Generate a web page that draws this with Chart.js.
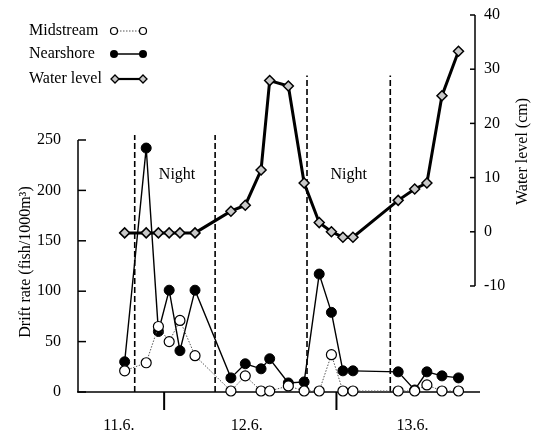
<!DOCTYPE html>
<html><head><meta charset="utf-8">
<script src="https://cdn.jsdelivr.net/npm/chart.js@4/dist/chart.umd.min.js"></script>
<style>html,body{margin:0;padding:0;background:#fff}#c{display:block}</style>
</head><body>
<canvas id="c" width="533" height="434"></canvas>
<script>
// ---- data (hours counted from 00:00 on 11.6.) ----
const hours = [18.5, 21.5, 23.2, 24.7, 26.2, 28.3, 33.3, 35.3, 37.5, 38.7, 41.3, 43.5, 45.6, 47.3, 48.9, 50.3, 56.6, 58.9, 60.6, 62.7, 65.0];
const midstream = [21, 29, 65, 50, 71, 36, 1, 16, 1, 1, 6, 1, 1, 37, 1, 1, 1, 1, 7, 1, 1];
const nearshore = [30, 242, 60, 101, 41, 101, 14, 28, 23, 33, 9, 10, 117, 79, 21, 21, 20, 2, 20, 16, 14];
const waterLevel = [-0.2, -0.2, -0.2, -0.2, -0.2, -0.2, 3.8, 4.9, 11.4, 27.9, 26.9, 9.0, 1.7, 0, -1.0, -1.0, 5.8, 7.9, 9.0, 25.1, 33.3];
const nightBounds = [19.9, 31.1, 43.9, 55.5];
const nightTops = [255, 255, 314, 314];
const nightLabelX = [25.8, 49.7];
const nightLabelY = 215;
const dateLabels = ['11.6.', '12.6.', '13.6.'];
const dateLabelHours = [17.7, 35.5, 58.6];
const midnightHours = [24, 48];
const driftTicks = [0, 50, 100, 150, 200, 250];
const levelTicks = [-10, 0, 10, 20, 30, 40];
const seriesNames = ['Water level', 'Midstream', 'Nearshore'];

const FONT = '"Liberation Serif", "Times New Roman", serif';
Chart.defaults.font.family = FONT;
Chart.defaults.font.size = 16;
Chart.defaults.color = '#000';

const pts = arr => hours.map((h, i) => ({x: h, y: arr[i]}));

const datasets = [
  {label: seriesNames[0], data: pts(waterLevel), yAxisID: 'y2', borderColor: '#000', borderWidth: 3,
   pointStyle: 'rectRot', pointRadius: 5, pointBackgroundColor: '#c8c8c8', pointBorderColor: '#000', pointBorderWidth: 1.5, order: 0, clip: false},
  {label: seriesNames[1], data: pts(midstream), yAxisID: 'y', borderColor: '#555', borderWidth: 1, borderDash: [1.5, 1.5],
   pointRadius: 5, pointBackgroundColor: '#fff', pointBorderColor: '#000', pointBorderWidth: 1.2, order: 1, clip: false},
  {label: seriesNames[2], data: pts(nearshore), yAxisID: 'y', borderColor: '#000', borderWidth: 1.4,
   pointRadius: 5, pointBackgroundColor: '#000', pointBorderColor: '#000', pointBorderWidth: 1, order: 2, clip: false}
];
nightBounds.forEach((h, i) => {
  datasets.push({label: 'night' + i, data: [{x: h, y: 0}, {x: h, y: nightTops[i]}], yAxisID: 'y',
    borderColor: '#000', borderWidth: 1.6, borderDash: [6, 3], pointRadius: 0, order: 3, clip: false});
});

function seg(ctx, x1, y1, x2, y2) { ctx.beginPath(); ctx.moveTo(x1, y1); ctx.lineTo(x2, y2); ctx.stroke(); }

const decor = {
  id: 'decor',
  beforeDatasetsDraw(chart) {
    const {ctx, scales: {x, y, y2}} = chart;
    ctx.save();
    ctx.strokeStyle = '#000';
    ctx.lineCap = 'butt';
    const yb = y.getPixelForValue(0);
    ctx.lineWidth = 1.5;
    seg(ctx, x.left - 1, yb, x.right + 5, yb);
    ctx.lineWidth = 2;
    midnightHours.forEach(h => { const px = x.getPixelForValue(h); seg(ctx, px, yb, px, yb + 18); });
    ctx.lineWidth = 1.5;
    const xl = x.left;
    seg(ctx, xl, y.getPixelForValue(driftTicks[0]), xl, y.getPixelForValue(driftTicks[driftTicks.length - 1]));
    driftTicks.forEach(v => { const py = y.getPixelForValue(v); seg(ctx, xl, py, xl + 8, py); });
    const xr = x.right;
    seg(ctx, xr, y2.getPixelForValue(levelTicks[0]), xr, y2.getPixelForValue(levelTicks[levelTicks.length - 1]));
    levelTicks.forEach(v => { const py = y2.getPixelForValue(v); seg(ctx, xr, py, xr - 5, py); });
    ctx.restore();
  },
  afterDraw(chart) {
    const {ctx, scales: {x, y, y2}} = chart;
    ctx.save();
    ctx.fillStyle = '#000';
    ctx.font = '16px ' + FONT;
    ctx.textAlign = 'center';
    ctx.textBaseline = 'middle';
    nightLabelX.forEach(h => ctx.fillText('Night', x.getPixelForValue(h), y.getPixelForValue(nightLabelY)));
    // axis titles
    const cyL = (y.getPixelForValue(driftTicks[0]) + y.getPixelForValue(driftTicks[driftTicks.length - 1])) / 2 - 4;
    ctx.save(); ctx.translate(26, cyL); ctx.rotate(-Math.PI / 2);
    ctx.fillText('Drift rate (fish/1000m³)', 0, 0); ctx.restore();
    const cyR = (y2.getPixelForValue(levelTicks[0]) + y2.getPixelForValue(levelTicks[levelTicks.length - 1])) / 2 + 1;
    ctx.save(); ctx.translate(523, cyR); ctx.rotate(-Math.PI / 2);
    ctx.fillText('Water level (cm)', 0, 0); ctx.restore();
    // legend
    const rows = [
      {name: seriesNames[1], y: 31}, {name: seriesNames[2], y: 54}, {name: seriesNames[0], y: 79}
    ];
    ctx.textAlign = 'left';
    rows.forEach(r => ctx.fillText(r.name, 29, r.y));
    const x1 = 114, x2 = 143;
    // Midstream
    ctx.strokeStyle = '#555'; ctx.lineWidth = 1; ctx.setLineDash([1.5, 1.5]);
    seg(ctx, x1, rows[0].y, x2, rows[0].y); ctx.setLineDash([]);
    ctx.strokeStyle = '#000'; ctx.lineWidth = 1.2; ctx.fillStyle = '#fff';
    [x1, x2].forEach(px => { ctx.beginPath(); ctx.arc(px, rows[0].y, 3.5, 0, Math.PI * 2); ctx.fill(); ctx.stroke(); });
    // Nearshore
    ctx.lineWidth = 1.5; seg(ctx, x1, rows[1].y, x2, rows[1].y);
    ctx.fillStyle = '#000';
    [x1, x2].forEach(px => { ctx.beginPath(); ctx.arc(px, rows[1].y, 4, 0, Math.PI * 2); ctx.fill(); });
    // Water level
    ctx.lineWidth = 2.2; seg(ctx, x1 + 1, rows[2].y, x2, rows[2].y);
    ctx.lineWidth = 1.3; ctx.fillStyle = '#c8c8c8';
    [x1 + 1, x2].forEach(px => { ctx.beginPath(); ctx.moveTo(px, rows[2].y - 4); ctx.lineTo(px + 4, rows[2].y);
      ctx.lineTo(px, rows[2].y + 4); ctx.lineTo(px - 4, rows[2].y); ctx.closePath(); ctx.fill(); ctx.stroke(); });
    ctx.restore();
  }
};

new Chart(document.getElementById('c'), {
  type: 'line',
  data: {datasets},
  options: {
    responsive: false,
    animation: false,
    layout: {padding: {top: 15, left: 0, right: 0, bottom: 0}},
    plugins: {legend: {display: false}, tooltip: {enabled: false}},
    scales: {
      x: {type: 'linear', min: 12, max: 67.3, bounds: 'data',
        grid: {display: false}, border: {display: false},
        afterBuildTicks: s => { s.ticks = dateLabelHours.map(v => ({value: v})); },
        ticks: {autoSkip: false, maxRotation: 0, padding: 16, callback: (v, i) => dateLabels[i]},
        afterFit: s => { s.height = 42; s.paddingLeft = 0; s.paddingRight = 0; }},
      y: {type: 'linear', position: 'left', min: 0, max: 374, bounds: 'data',
        grid: {display: false}, border: {display: false},
        afterBuildTicks: s => { s.ticks = driftTicks.map(v => ({value: v})); },
        ticks: {padding: 9},
        afterFit: s => { s.width = 78; s.paddingTop = 0; s.paddingBottom = 0; }},
      y2: {type: 'linear', position: 'right', min: -29.56, max: 40, bounds: 'data',
        grid: {display: false}, border: {display: false},
        afterBuildTicks: s => { s.ticks = levelTicks.map(v => ({value: v})); },
        ticks: {padding: 1},
        afterFit: s => { s.width = 58; s.paddingTop = 0; s.paddingBottom = 0; }}
    }
  },
  plugins: [decor]
});
</script>
</body></html>
